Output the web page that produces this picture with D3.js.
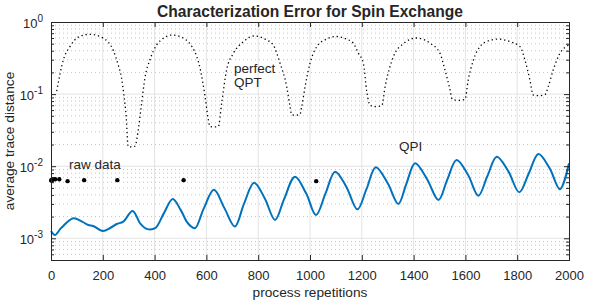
<!DOCTYPE html>
<html>
<head>
<meta charset="utf-8">
<script src="https://cdn.jsdelivr.net/npm/d3@7"></script>
<style>
  body { margin:0; background:#fff; }
  #canvas { width:600px; height:300px; }
  text { font-family: "Liberation Sans", Arial, Helvetica, sans-serif; fill:#262626; }
</style>
</head>
<body>
<div id="canvas" class="canvas"></div>
<script>
// perfect QPT (dotted)
var qptReps = [22,48,73,110,150,200,241,260,272,281,290,298,311,324,337,350,363,382,408,435,468,
  520,545,563,577,595,607,614,630,646,659,678,704,742,785,830,858,884,910,923,929,945,961,968,981,
  1000,1026,1060,1100,1140,1167,1187,1206,1219,1232,1250,1277,1290,1322,1360,1412,1463,1502,1521,
  1541,1549,1570,1598,1611,1631,1656,1690,1727,1775,1811,1830,1849,1862,1885,1907,1920,1939,1965,2000];
var qptErr = [0.11,0.3,0.455,0.63,0.675,0.6,0.4,0.25,0.17,0.1,0.05,0.0186,0.0185,0.019,0.032,0.075,0.17,0.3,0.48,0.6,0.66,
  0.57,0.45,0.33,0.216,0.092,0.045,0.0355,0.035,0.0355,0.075,0.216,0.367,0.53,0.64,0.57,0.48,0.27,0.127,0.067,0.052,0.051,0.052,0.067,0.127,
  0.267,0.455,0.57,0.63,0.58,0.51,0.367,0.267,0.11,0.07,0.067,0.069,0.127,0.33,0.5,0.6,0.51,0.367,0.216,
  0.114,0.085,0.082,0.084,0.157,0.297,0.455,0.55,0.58,0.53,0.455,0.297,0.157,0.097,0.095,0.098,0.127,0.216,0.367,0.48];

// QPI (blue)
var qpiReps = [0,15,40,86,120,144,163,200,230,254,279,315,345,370,402,435,470,500,524,537,556,590,629,670,710,
  745,784,825,865,900,942,985,1023,1060,1097,1140,1183,1218,1254,1300,1341,1372,1406,1452,1496,1530,1566,
  1610,1650,1685,1721,1765,1808,1845,1882,1925,1965,2000];
var qpiErr = [0.00126,0.00111,0.0014,0.0019,0.0017,0.00153,0.00148,0.00126,0.0014,0.00158,0.0017,0.0024,0.0016,0.00135,0.00138,0.0022,0.0035,0.0025,0.0017,0.0015,0.00138,0.0026,0.0047,0.0026,0.00146,
  0.003,0.0059,0.0036,0.0018,0.0035,0.00715,0.0042,0.0021,0.0042,0.0084,0.0052,0.00252,0.0048,0.00966,0.0058,0.003,0.0057,0.011,0.0066,0.0034,0.0065,0.0122,
  0.0076,0.0039,0.0073,0.0135,0.0086,0.00435,0.008,0.0148,0.0094,0.0048,0.011];

// raw data points
var rawReps = [1,2,4,8,16,32,64,128,256,512,1024];
var rawErr = [0.0064,0.0063,0.0065,0.0066,0.0066,0.0066,0.0062,0.0064,0.0064,0.0064,0.0062];

var xTicks = [0,200,400,600,800,1000,1200,1400,1600,1800,2000];
var yTicks = [1e-3,1e-2,1e-1,1];
var yTickExp = ['-3','-2','-1','0'];

var m = {t:22,r:31,b:40,l:51};
var outerWidth = 600, outerHeight = 300;
var w = outerWidth - m.l - m.r,
    h = outerHeight - m.t - m.b;

var svg = d3.select('.canvas')
    .append('svg')
    .attr('width',outerWidth)
    .attr('height',outerHeight);

var plot = svg.append('g')
    .attr('transform','translate(' + m.l + ',' + m.t + ')');

var scaleX = d3.scaleLinear().domain([0,2000]).range([0,w]);
var scaleY = d3.scaleLog().domain([5e-4,1]).range([h,0]);

// minor y values (2..9 per decade)
var minorY = [];
[1e-4,1e-3,1e-2,1e-1].forEach(function(d){
  for (var k=2;k<10;k++){ var v=d*k; if (v>5e-4 && v<1) minorY.push(v); }
});

// grid
plot.selectAll('.minor').data(minorY).enter().append('line')
    .attr('x1',0).attr('x2',w)
    .attr('y1',function(d){return scaleY(d);}).attr('y2',function(d){return scaleY(d);})
    .style('stroke','#c4c4c4').style('stroke-dasharray','1,3').style('stroke-width',1);

plot.selectAll('.gx').data(xTicks.slice(1,-1)).enter().append('line')
    .attr('x1',function(d){return scaleX(d);}).attr('x2',function(d){return scaleX(d);})
    .attr('y1',0).attr('y2',h)
    .style('stroke','#e3e3e3').style('stroke-width',1);

plot.selectAll('.gy').data(yTicks.slice(0,-1)).enter().append('line')
    .attr('x1',0).attr('x2',w)
    .attr('y1',function(d){return scaleY(d);}).attr('y2',function(d){return scaleY(d);})
    .style('stroke','#e3e3e3').style('stroke-width',1);

// lines
var qptLine = d3.line()
    .x(function(d){return scaleX(d[0]);})
    .y(function(d){return scaleY(d[1]);})
    .curve(d3.curveMonotoneX);

plot.append('path')
    .datum(d3.zip(qptReps,qptErr))
    .attr('d',qptLine)
    .style('fill','none').style('stroke','#000')
    .style('stroke-width',1.3).style('stroke-dasharray','1.3,2.9');

var qpiLine = d3.line()
    .x(function(d){return scaleX(d[0]);})
    .y(function(d){return scaleY(d[1]);})
    .curve(d3.curveCatmullRom);

plot.append('path')
    .datum(d3.zip(qpiReps,qpiErr))
    .attr('d',qpiLine)
    .style('fill','none').style('stroke','#0072bd').style('stroke-width',2);

plot.selectAll('.raw').data(d3.zip(rawReps,rawErr)).enter().append('circle')
    .attr('cx',function(d){return scaleX(d[0]);})
    .attr('cy',function(d){return scaleY(d[1]);})
    .attr('r',2.2).style('fill','#000');

// axes (MATLAB style box, ticks inward)
var axisB = d3.axisBottom(scaleX).tickValues(xTicks).tickSize(-5).tickPadding(11).tickFormat(d3.format('d'));
var axisT = d3.axisTop(scaleX).tickValues(xTicks).tickSize(-5).tickFormat('');
var axisL = d3.axisLeft(scaleY).tickValues(yTicks).tickSize(-5).tickFormat('');
var axisR = d3.axisRight(scaleY).tickValues(yTicks).tickSize(-5).tickFormat('');

var gb = plot.append('g').attr('transform','translate(0,'+h+')').call(axisB);
plot.append('g').call(axisT);
plot.append('g').call(axisL);
plot.append('g').attr('transform','translate('+w+',0)').call(axisR);

plot.append('g').call(d3.axisLeft(scaleY).tickValues(minorY).tickSize(-3).tickFormat(''));
plot.append('g').attr('transform','translate('+w+',0)')
    .call(d3.axisRight(scaleY).tickValues(minorY).tickSize(-3).tickFormat(''));

plot.selectAll('.domain').style('stroke','#262626');
plot.selectAll('.tick line').style('stroke','#262626');
gb.selectAll('text').style('font-size','13px').style('font-family','"Liberation Sans", Arial, sans-serif').style('fill','#262626');

// y tick labels 10^k
yTicks.forEach(function(d,i){
  var t = plot.append('text')
      .attr('x',-8).attr('y',scaleY(d)+6)
      .attr('text-anchor','end')
      .style('font-size','13px');
  t.append('tspan').text('10');
  t.append('tspan').attr('dy',-6).style('font-size','10px').text(yTickExp[i]);
});

// labels
svg.append('text').attr('x',m.l+w/2).attr('y',17)
    .attr('text-anchor','middle').style('font-size','15.6px').style('font-weight','bold')
    .text('Characterization Error for Spin Exchange');

svg.append('text').attr('x',m.l+w/2).attr('y',297)
    .attr('text-anchor','middle').style('font-size','13.7px')
    .text('process repetitions');

svg.append('text').attr('transform','translate(14,'+(m.t+h/2)+') rotate(-90)')
    .attr('text-anchor','middle').style('font-size','13.7px')
    .text('average trace distance');

svg.append('text').attr('x',69).attr('y',169).style('font-size','13.5px').text('raw data');
svg.append('text').attr('x',234).attr('y',73).style('font-size','13.5px').text('perfect');
svg.append('text').attr('x',234).attr('y',87).style('font-size','13.5px').text('QPT');
svg.append('text').attr('x',399).attr('y',151).style('font-size','13.5px').text('QPI');
</script>
</body>
</html>
